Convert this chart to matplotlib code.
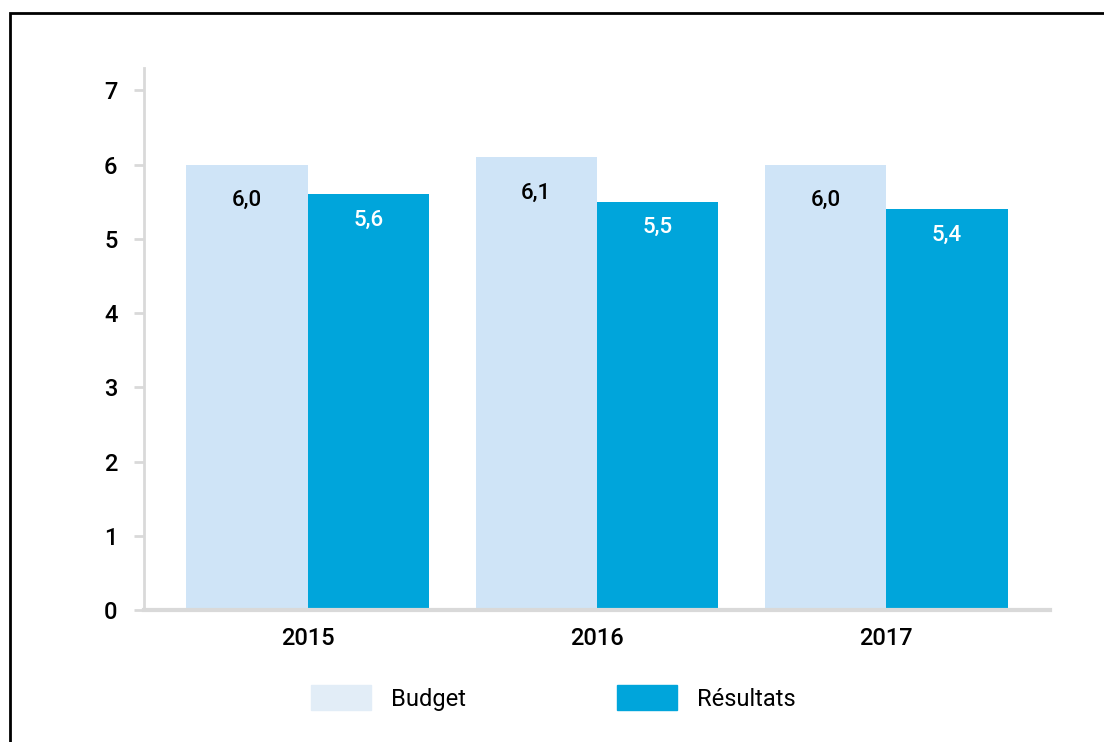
import numpy as np
import matplotlib.pyplot as plt
from matplotlib.patches import Rectangle

years = ['2015', '2016', '2017']
budget = [6.0, 6.1, 6.0]
resultats = [5.6, 5.5, 5.4]
series_names = ['Budget', 'Résultats']

plt.rcParams['font.family'] = ['Roboto', 'DejaVu Sans']

c_budget = '#cfe4f7'
c_budget_leg = '#e2edf7'
c_res = '#00a5db'
grey = '#d9d9d9'

W, H = 1104, 742
fig = plt.figure(figsize=(W / 100, H / 100), dpi=100)
ax = fig.add_axes([144 / W, (H - 610) / H, (1050 - 144) / W, (610 - 68) / H])

# outer frame (only top and left visible in the reference)
fig.patches.append(Rectangle((10 / W, -0.1), 1.2, (H - 13) / H + 0.1, transform=fig.transFigure,
                             fill=False, edgecolor='black', linewidth=2))

x = np.arange(len(years))
w = 0.42
b1 = ax.bar(x - w / 2, budget, w, color=c_budget)
b2 = ax.bar(x + w / 2, resultats, w, color=c_res)

for rect, v in zip(b1, budget):
    ax.annotate(f'{v:.1f}'.replace('.', ','), (rect.get_x() + rect.get_width() / 2, v),
                xytext=(0, -36), textcoords='offset pixels', ha='center', va='center',
                fontsize=16, fontweight='medium', color='black')
for rect, v in zip(b2, resultats):
    ax.annotate(f'{v:.1f}'.replace('.', ','), (rect.get_x() + rect.get_width() / 2, v),
                xytext=(0, -26), textcoords='offset pixels', ha='center', va='center',
                fontsize=16, fontweight='medium', color='white')

ax.set_xlim(-0.567, 2.567)
ax.set_ylim(0, 7.3)
ax.set_yticks(range(0, 8))
ax.set_xticks(x)
ax.set_xticklabels(years)

for s in ['top', 'right']:
    ax.spines[s].set_visible(False)
ax.spines['left'].set_color(grey)
ax.spines['left'].set_linewidth(2)
ax.spines['bottom'].set_color(grey)
ax.spines['bottom'].set_linewidth(3)
ax.tick_params(axis='y', length=7, width=2, color=grey, labelsize=17, pad=12)
ax.tick_params(axis='x', length=0, labelsize=17, pad=12)
for lab in ax.get_xticklabels() + ax.get_yticklabels():
    lab.set_fontweight('medium')

handles = [Rectangle((0, 0), 1, 1, color=c_budget_leg), Rectangle((0, 0), 1, 1, color=c_res)]
fig.legend(handles, series_names, loc='center', bbox_to_anchor=(553 / W, (H - 698) / H),
           ncol=2, frameon=False, fontsize=17, handlelength=2.54, handleheight=1.27,
           handletextpad=0.85, columnspacing=6.4)

fig.savefig('out.png', dpi=100)
